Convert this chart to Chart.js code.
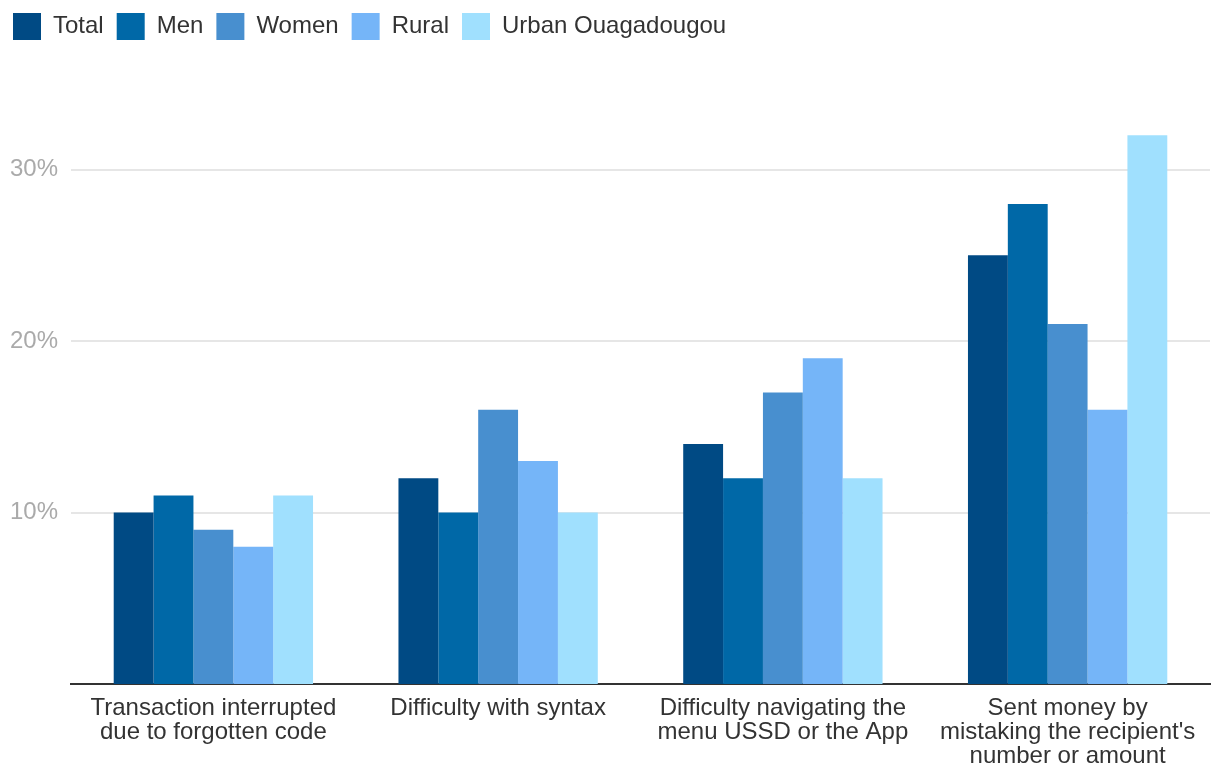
<!DOCTYPE html>
<html>
<head>
<meta charset="utf-8">
<title>Mobile money difficulties</title>
<script src="https://cdn.jsdelivr.net/npm/chart.js@4.4.1/dist/chart.umd.min.js"></script>
<style>
  html, body { margin: 0; padding: 0; background: #fff; }
  #wrap { width: 1220px; height: 784px; position: relative; }
</style>
</head>
<body>
<div id="wrap"><canvas id="chart"></canvas></div>
<script>
// categories (multi-line labels as in the picture)
const categories = [
    ['Transaction interrupted', 'due to forgotten code'],
    ['Difficulty with syntax'],
    ['Difficulty navigating the', 'menu USSD or the App'],
    ['Sent money by', "mistaking the recipient's", 'number or amount']
];

// series values, in percent
const totalVals = [10, 12, 14, 25];
const menVals = [11, 10, 12, 28];
const womenVals = [9, 16, 17, 21];
const ruralVals = [8, 13, 19, 16];
const urbanVals = [11, 10, 12, 32];

const seriesNames = ['Total', 'Men', 'Women', 'Rural', 'Urban Ouagadougou'];
const seriesColors = ['#004a84', '#0068a7', '#488fcf', '#75b5f8', '#a0e0fe'];

// y tick labels shown
const yTicks = [10, 20, 30];
const yMax = 34;

const fontFamily = '"Liberation Sans", Arial, Helvetica, sans-serif';

// push the plot area down below the legend
const legendSpace = {
    id: 'legendSpace',
    beforeInit(chart) {
        const origFit = chart.legend.fit;
        chart.legend.fit = function fit() {
            origFit.bind(chart.legend)();
            this.height += 51;
        };
    }
};

const allVals = [totalVals, menVals, womenVals, ruralVals, urbanVals];
const datasets = allVals.map((vals, i) => ({
    label: seriesNames[i],
    data: vals,
    backgroundColor: seriesColors[i],
    borderWidth: 0,
    categoryPercentage: 0.7,
    barPercentage: 1.0
}));

const ctx = document.getElementById('chart').getContext('2d');
new Chart(ctx, {
    type: 'bar',
    data: { labels: categories, datasets: datasets },
    options: {
        responsive: true,
        maintainAspectRatio: false,
        animation: false,
        layout: { padding: { top: 0, left: 0, right: 10, bottom: 4 } },
        scales: {
            x: {
                grid: { display: false, drawTicks: false },
                border: { display: true, color: '#333333', width: 2 },
                ticks: {
                    color: '#333333',
                    font: { family: fontFamily, size: 24, lineHeight: 1.0 },
                    padding: 12,
                    maxRotation: 0,
                    autoSkip: false
                }
            },
            y: {
                min: 0,
                max: yMax,
                afterBuildTicks(scale) {
                    scale.ticks = yTicks.map(v => ({ value: v }));
                },
                afterFit(scale) {
                    scale.width = 71;
                },
                grid: { color: '#e6e6e6', lineWidth: 2, drawTicks: false },
                border: { display: false },
                ticks: {
                    color: '#aaaaaa',
                    font: { family: fontFamily, size: 24 },
                    padding: 13,
                    callback: v => v + '%'
                }
            }
        },
        plugins: {
            legend: {
                position: 'top',
                align: 'start',
                labels: {
                    boxWidth: 28,
                    boxHeight: 27,
                    padding: 13,
                    color: '#333333',
                    font: { family: fontFamily, size: 24 }
                }
            },
            tooltip: { enabled: false }
        }
    },
    plugins: [legendSpace]
});
</script>
</body>
</html>
